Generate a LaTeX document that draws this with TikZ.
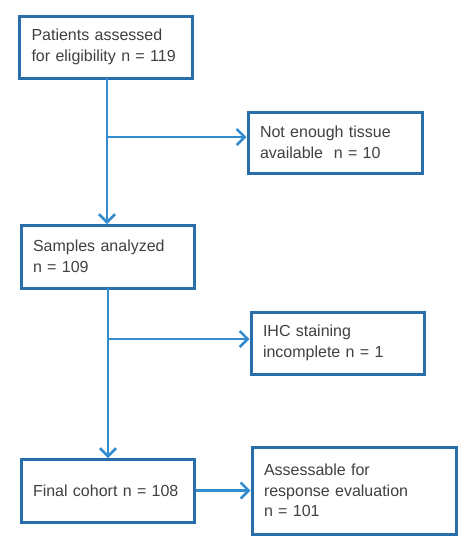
\documentclass[tikz,border=0pt]{standalone}
\usepackage{fontspec}
\setmainfont{Liberation Sans}
\usetikzlibrary{arrows.meta}

\definecolor{boxblue}{RGB}{40,110,170}
\definecolor{lineblue}{RGB}{50,140,205}
\definecolor{textgray}{RGB}{64,64,64}

\tikzset{
    flowbox/.style={draw=boxblue, line width=3pt, rectangle, fill=white,
        align=left, inner xsep=12pt, inner ysep=2pt,
        text=textgray, font=\fontsize{16}{20.5}\selectfont},
    flowarrow/.style={draw=lineblue, line width=2.6pt,
        -{Straight Barb[length=8pt, width=16pt, line width=2.6pt]}}
}

\begin{document}
\begin{tikzpicture}[x=1pt, y=-1pt]
    \useasboundingbox (0,0) rectangle (465,550);

    \node[flowbox, text width=149pt, minimum height=62pt] (assessed) at (106,47)
        {Patients assessed\\for eligibility n = 119};
    \node[flowbox, text width=150pt, minimum height=61pt] (tissue) at (335,142.5)
        {Not enough tissue\\available\ \ n = 10};
    \node[flowbox, text width=149pt, minimum height=63pt] (samples) at (107.5,256.5)
        {Samples analyzed\\n = 109};
    \node[flowbox, text width=149pt, minimum height=62pt] (ihc) at (337.5,343)
        {IHC staining\\incomplete n = 1};
    \node[flowbox, text width=149pt, minimum height=63pt] (final) at (107.5,490.5)
        {Final cohort n = 108};
    \node[flowbox, text width=180pt, minimum height=87pt] (response) at (354,490.5)
        {Assessable for\\response evaluation\\n = 101};

    \coordinate (split1) at (107,137);
    \coordinate (split2) at (108,339);

    \draw[flowarrow] (107,78) -- (107,224);
    \draw[flowarrow] (split1) -- (split1 -| tissue.west);
    \draw[flowarrow] (108,288) -- (108,458);
    \draw[flowarrow] (split2) -- (split2 -| ihc.west);
    \draw[flowarrow] (final.east) -- (response.west);
\end{tikzpicture}
\end{document}
